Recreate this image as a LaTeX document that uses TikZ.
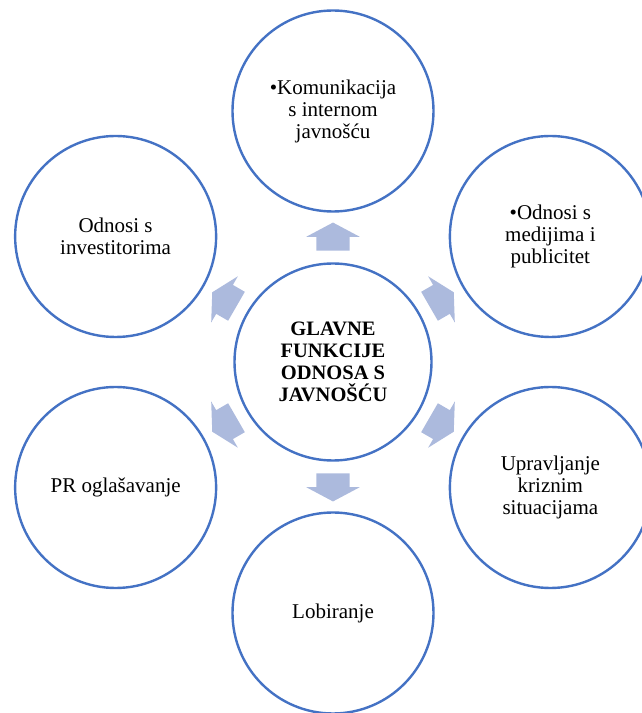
\documentclass[tikz,border=0pt]{standalone}
\usepackage{fontspec}
\setmainfont{Liberation Serif}
\usetikzlibrary{shapes.arrows,calc}
\definecolor{ringblue}{RGB}{68,114,196}
\definecolor{arrowblue}{RGB}{172,186,221}

\begin{document}
\begin{tikzpicture}[x=1pt,y=1pt,
    ring/.style={circle,draw=ringblue,line width=2.4pt,fill=white,minimum size=201,
        inner sep=0,align=center,font=\fontsize{21}{22}\selectfont},
    hub/.style={ring,minimum size=197,font=\fontsize{20.5}{22}\selectfont\bfseries},
    blockarrow/.style={single arrow,fill=arrowblue,draw=none,inner sep=0,
        text height=16.5pt,text depth=16.5pt,minimum height=28,
        single arrow head extend=10,single arrow tip angle=124}]
        \def \spoke {251};
        \def \gap {121};
        \useasboundingbox (0,0) rectangle (642,713);

        % the central circle
        \node[hub] (core) at (333,351) {GLAVNE\\FUNKCIJE\\ODNOSA S\\JAVNOŠĆU};

        % six functions around the centre, counter-clockwise from the top
        % each one gets a block arrow pointing out of the centre
        \foreach \ang/\name/\txt in {
            90/intern/{\textbullet Komunikacija\\s internom\\javnošću},
            150/investitori/{Odnosi s\\investitorima},
            210/oglasi/{PR oglašavanje},
            270/lobi/{Lobiranje},
            330/kriza/{Upravljanje\\kriznim\\situacijama},
            30/mediji/{\textbullet Odnosi s\\medijima i\\publicitet}} {
            \node[ring] (\name) at ($(core)+(\ang:\spoke)$) {\txt};
            \node[blockarrow,rotate=\ang] (arrow-\name) at ($(core)!\gap pt!(\name)$) {};
        }
    \end{tikzpicture}
\end{document}
